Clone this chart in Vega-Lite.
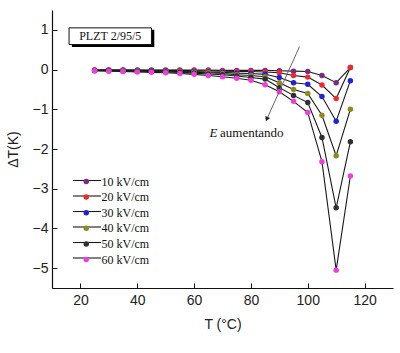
{
  "$schema": "https://vega.github.io/schema/vega-lite/v6.json",
  "width": 341,
  "height": 278,
  "autosize": {"type": "none"},
  "padding": {"left": 52, "top": 10, "right": 7, "bottom": 65},
  "background": "white",
  "config": {
    "view": {"stroke": null},
    "axis": {
      "domainColor": "#111",
      "domainWidth": 1.2,
      "tickColor": "#111",
      "grid": false,
      "labelFont": "Liberation Sans",
      "labelFontSize": 14,
      "labelColor": "#222",
      "titleFont": "Liberation Sans",
      "titleFontSize": 14,
      "titleFontWeight": "normal",
      "titleColor": "#222"
    }
  },
  "datasets": {
    "series": [
      {"T": 25, "E": "10 kV/cm", "dT": -0.01}, {"T": 30, "E": "10 kV/cm", "dT": -0.01}, {"T": 35, "E": "10 kV/cm", "dT": -0.01}, {"T": 40, "E": "10 kV/cm", "dT": -0.01}, {"T": 45, "E": "10 kV/cm", "dT": -0.01}, {"T": 50, "E": "10 kV/cm", "dT": -0.01}, {"T": 55, "E": "10 kV/cm", "dT": -0.01}, {"T": 60, "E": "10 kV/cm", "dT": -0.01}, {"T": 65, "E": "10 kV/cm", "dT": -0.01}, {"T": 70, "E": "10 kV/cm", "dT": -0.02}, {"T": 75, "E": "10 kV/cm", "dT": -0.02}, {"T": 80, "E": "10 kV/cm", "dT": -0.02}, {"T": 85, "E": "10 kV/cm", "dT": -0.02}, {"T": 90, "E": "10 kV/cm", "dT": -0.03}, {"T": 95, "E": "10 kV/cm", "dT": -0.04}, {"T": 100, "E": "10 kV/cm", "dT": -0.05}, {"T": 105, "E": "10 kV/cm", "dT": -0.15}, {"T": 110, "E": "10 kV/cm", "dT": -0.33}, {"T": 115, "E": "10 kV/cm", "dT": 0.05},
      {"T": 25, "E": "20 kV/cm", "dT": -0.01}, {"T": 30, "E": "20 kV/cm", "dT": -0.01}, {"T": 35, "E": "20 kV/cm", "dT": -0.01}, {"T": 40, "E": "20 kV/cm", "dT": -0.02}, {"T": 45, "E": "20 kV/cm", "dT": -0.02}, {"T": 50, "E": "20 kV/cm", "dT": -0.02}, {"T": 55, "E": "20 kV/cm", "dT": -0.02}, {"T": 60, "E": "20 kV/cm", "dT": -0.03}, {"T": 65, "E": "20 kV/cm", "dT": -0.03}, {"T": 70, "E": "20 kV/cm", "dT": -0.04}, {"T": 75, "E": "20 kV/cm", "dT": -0.05}, {"T": 80, "E": "20 kV/cm", "dT": -0.05}, {"T": 85, "E": "20 kV/cm", "dT": -0.06}, {"T": 90, "E": "20 kV/cm", "dT": -0.08}, {"T": 95, "E": "20 kV/cm", "dT": -0.15}, {"T": 100, "E": "20 kV/cm", "dT": -0.19}, {"T": 105, "E": "20 kV/cm", "dT": -0.39}, {"T": 110, "E": "20 kV/cm", "dT": -0.73}, {"T": 115, "E": "20 kV/cm", "dT": 0.05},
      {"T": 25, "E": "30 kV/cm", "dT": -0.02}, {"T": 30, "E": "30 kV/cm", "dT": -0.02}, {"T": 35, "E": "30 kV/cm", "dT": -0.02}, {"T": 40, "E": "30 kV/cm", "dT": -0.02}, {"T": 45, "E": "30 kV/cm", "dT": -0.03}, {"T": 50, "E": "30 kV/cm", "dT": -0.03}, {"T": 55, "E": "30 kV/cm", "dT": -0.04}, {"T": 60, "E": "30 kV/cm", "dT": -0.05}, {"T": 65, "E": "30 kV/cm", "dT": -0.06}, {"T": 70, "E": "30 kV/cm", "dT": -0.07}, {"T": 75, "E": "30 kV/cm", "dT": -0.09}, {"T": 80, "E": "30 kV/cm", "dT": -0.1}, {"T": 85, "E": "30 kV/cm", "dT": -0.12}, {"T": 90, "E": "30 kV/cm", "dT": -0.2}, {"T": 95, "E": "30 kV/cm", "dT": -0.33}, {"T": 100, "E": "30 kV/cm", "dT": -0.37}, {"T": 105, "E": "30 kV/cm", "dT": -0.68}, {"T": 110, "E": "30 kV/cm", "dT": -1.3}, {"T": 115, "E": "30 kV/cm", "dT": -0.28},
      {"T": 25, "E": "40 kV/cm", "dT": -0.02}, {"T": 30, "E": "40 kV/cm", "dT": -0.02}, {"T": 35, "E": "40 kV/cm", "dT": -0.03}, {"T": 40, "E": "40 kV/cm", "dT": -0.03}, {"T": 45, "E": "40 kV/cm", "dT": -0.04}, {"T": 50, "E": "40 kV/cm", "dT": -0.04}, {"T": 55, "E": "40 kV/cm", "dT": -0.05}, {"T": 60, "E": "40 kV/cm", "dT": -0.07}, {"T": 65, "E": "40 kV/cm", "dT": -0.08}, {"T": 70, "E": "40 kV/cm", "dT": -0.1}, {"T": 75, "E": "40 kV/cm", "dT": -0.13}, {"T": 80, "E": "40 kV/cm", "dT": -0.15}, {"T": 85, "E": "40 kV/cm", "dT": -0.18}, {"T": 90, "E": "40 kV/cm", "dT": -0.33}, {"T": 95, "E": "40 kV/cm", "dT": -0.5}, {"T": 100, "E": "40 kV/cm", "dT": -0.6}, {"T": 105, "E": "40 kV/cm", "dT": -1.15}, {"T": 110, "E": "40 kV/cm", "dT": -2.17}, {"T": 115, "E": "40 kV/cm", "dT": -1.0},
      {"T": 25, "E": "50 kV/cm", "dT": -0.03}, {"T": 30, "E": "50 kV/cm", "dT": -0.03}, {"T": 35, "E": "50 kV/cm", "dT": -0.04}, {"T": 40, "E": "50 kV/cm", "dT": -0.04}, {"T": 45, "E": "50 kV/cm", "dT": -0.05}, {"T": 50, "E": "50 kV/cm", "dT": -0.06}, {"T": 55, "E": "50 kV/cm", "dT": -0.07}, {"T": 60, "E": "50 kV/cm", "dT": -0.09}, {"T": 65, "E": "50 kV/cm", "dT": -0.11}, {"T": 70, "E": "50 kV/cm", "dT": -0.13}, {"T": 75, "E": "50 kV/cm", "dT": -0.16}, {"T": 80, "E": "50 kV/cm", "dT": -0.2}, {"T": 85, "E": "50 kV/cm", "dT": -0.24}, {"T": 90, "E": "50 kV/cm", "dT": -0.46}, {"T": 95, "E": "50 kV/cm", "dT": -0.65}, {"T": 100, "E": "50 kV/cm", "dT": -0.83}, {"T": 105, "E": "50 kV/cm", "dT": -1.71}, {"T": 110, "E": "50 kV/cm", "dT": -3.48}, {"T": 115, "E": "50 kV/cm", "dT": -1.82},
      {"T": 25, "E": "60 kV/cm", "dT": -0.03}, {"T": 30, "E": "60 kV/cm", "dT": -0.04}, {"T": 35, "E": "60 kV/cm", "dT": -0.05}, {"T": 40, "E": "60 kV/cm", "dT": -0.06}, {"T": 45, "E": "60 kV/cm", "dT": -0.07}, {"T": 50, "E": "60 kV/cm", "dT": -0.08}, {"T": 55, "E": "60 kV/cm", "dT": -0.1}, {"T": 60, "E": "60 kV/cm", "dT": -0.12}, {"T": 65, "E": "60 kV/cm", "dT": -0.15}, {"T": 70, "E": "60 kV/cm", "dT": -0.18}, {"T": 75, "E": "60 kV/cm", "dT": -0.22}, {"T": 80, "E": "60 kV/cm", "dT": -0.27}, {"T": 85, "E": "60 kV/cm", "dT": -0.38}, {"T": 90, "E": "60 kV/cm", "dT": -0.56}, {"T": 95, "E": "60 kV/cm", "dT": -0.8}, {"T": 100, "E": "60 kV/cm", "dT": -1.08}, {"T": 105, "E": "60 kV/cm", "dT": -2.32}, {"T": 110, "E": "60 kV/cm", "dT": -5.05}, {"T": 115, "E": "60 kV/cm", "dT": -2.68}
    ],
    "one": [{}]
  },
  "layer": [
    {
      "data": {"name": "series"},
      "mark": {"type": "line", "strokeWidth": 1.1},
      "encoding": {
        "x": {
          "field": "T", "type": "quantitative",
          "scale": {"domain": [10, 130], "nice": false, "zero": false},
          "axis": {
            "title": "T (°C)",
            "values": [20, 30, 40, 50, 60, 70, 80, 90, 100, 110, 120],
            "labelExpr": "datum.value % 20 === 0 ? datum.label : ''",
            "tickSize": {"condition": {"test": "datum.value % 20 === 0", "value": -5}, "value": -3},
            "labelPadding": 10,
            "titlePadding": 10
          }
        },
        "y": {
          "field": "dT", "type": "quantitative",
          "scale": {"domain": [-5.5, 1.5], "nice": false, "zero": false},
          "axis": {
            "title": "ΔT(K)",
            "values": [-5, -4.5, -4, -3.5, -3, -2.5, -2, -1.5, -1, -0.5, 0, 0.5, 1],
            "labelExpr": "datum.value % 1 === 0 ? datum.label : ''",
            "tickSize": {"condition": {"test": "datum.value % 1 === 0", "value": -5}, "value": -3},
            "labelPadding": 9,
            "titlePadding": 12
          }
        },
        "stroke": {
          "field": "E", "type": "nominal",
          "scale": {"range": ["#1a1a1a"]},
          "legend": {
            "title": null,
            "orient": "none",
            "legendX": 27,
            "legendY": 162.5,
            "padding": 0,
            "rowPadding": 1.5,
            "symbolType": "M-2,0H2",
            "symbolSize": 196,
            "symbolStrokeWidth": 1.1,
            "labelFont": "Liberation Serif",
            "labelFontSize": 12,
            "labelExpr": "''",
            "labelOffset": 9
          }
        }
      }
    },
    {
      "data": {"name": "series"},
      "mark": {"type": "point", "filled": true, "size": 30, "opacity": 1},
      "encoding": {
        "x": {"field": "T", "type": "quantitative"},
        "y": {"field": "dT", "type": "quantitative"},
        "color": {
          "field": "E", "type": "nominal",
          "scale": {
            "domain": ["10 kV/cm", "20 kV/cm", "30 kV/cm", "40 kV/cm", "50 kV/cm", "60 kV/cm"],
            "range": ["#7a2a80", "#ee2b2b", "#2020e0", "#8c8c1e", "#303030", "#f03ce0"]
          },
          "legend": {
            "title": null,
            "orient": "none",
            "legendX": 28.25,
            "legendY": 165.5,
            "padding": 0,
            "rowPadding": 3.6,
            "symbolType": "circle",
            "symbolSize": 30,
            "symbolOpacity": 1,
            "labelFont": "Liberation Serif",
            "labelFontSize": 12,
            "labelColor": "#111",
            "labelOffset": 9.25
          }
        }
      }
    },
    {
      "data": {"name": "one"},
      "mark": {"type": "rect", "color": "#000"},
      "encoding": {
        "x": {"datum": 17}, "x2": {"datum": 46},
        "y": {"datum": 1.0}, "y2": {"datum": 0.57}
      }
    },
    {
      "data": {"name": "one"},
      "mark": {"type": "rect", "fill": "white", "stroke": "#111", "strokeWidth": 1},
      "encoding": {
        "x": {"datum": 16}, "x2": {"datum": 45},
        "y": {"datum": 1.05}, "y2": {"datum": 0.63}
      }
    },
    {
      "data": {"name": "one"},
      "mark": {"type": "text", "font": "Liberation Serif", "fontSize": 12, "color": "#111", "align": "center", "baseline": "middle"},
      "encoding": {
        "x": {"datum": 30.5}, "y": {"datum": 0.84},
        "text": {"value": "PLZT 2/95/5"}
      }
    },
    {
      "data": {"name": "one"},
      "mark": {"type": "rule", "color": "#666", "strokeWidth": 1},
      "encoding": {
        "x": {"datum": 97.1}, "y": {"datum": 0.58},
        "x2": {"datum": 85.9}, "y2": {"datum": -1.2}
      }
    },
    {
      "data": {"name": "one"},
      "mark": {"type": "point", "shape": "triangle", "filled": true, "color": "#222", "size": 28, "angle": 204, "opacity": 1},
      "encoding": {
        "x": {"datum": 85.7}, "y": {"datum": -1.23}
      }
    },
    {
      "data": {"name": "one"},
      "mark": {"type": "text", "font": "Liberation Serif", "fontSize": 13, "fontStyle": "italic", "color": "#111", "align": "right", "baseline": "middle"},
      "encoding": {
        "x": {"datum": 68.2}, "y": {"datum": -1.6},
        "text": {"value": "E"}
      }
    },
    {
      "data": {"name": "one"},
      "mark": {"type": "text", "font": "Liberation Serif", "fontSize": 13, "color": "#111", "align": "right", "baseline": "middle"},
      "encoding": {
        "x": {"datum": 91.5}, "y": {"datum": -1.6},
        "text": {"value": "aumentando"}
      }
    }
  ]
}
